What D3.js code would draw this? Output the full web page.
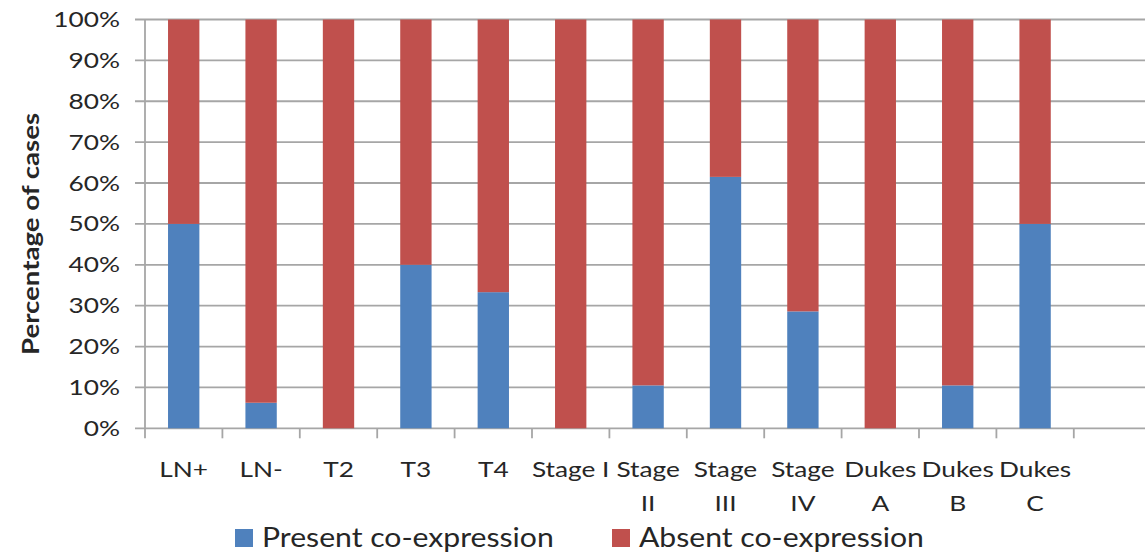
<!DOCTYPE html>
<html><head><meta charset="utf-8">
<script src="https://cdn.jsdelivr.net/npm/d3@7"></script>
<style>
body{margin:0;background:#fff;}
svg text{font-family:Lato,"Open Sans",sans-serif;fill:#262626;}
</style>
</head><body>
<svg id="chart" width="1145" height="556"></svg>
<script>
const categories = ["LN+","LN-","T2","T3","T4","Stage I","Stage II","Stage III","Stage IV","Dukes A","Dukes B","Dukes C"];
const categoryLabelLines = [["LN+"],["LN-"],["T2"],["T3"],["T4"],["Stage I"],["Stage","II"],["Stage","III"],["Stage","IV"],["Dukes","A"],["Dukes","B"],["Dukes","C"]];
const presentValues = [50, 6.25, 0, 40, 33.3, 0, 10.5, 61.5, 28.6, 0, 10.5, 50];
const absentValues  = [50, 93.75, 100, 60, 66.7, 100, 89.5, 38.5, 71.4, 100, 89.5, 50];
const seriesNames = ["Present co-expression", "Absent co-expression"];
const seriesColors = ["#4F81BD", "#C0504D"];
const yTickValues = [0,10,20,30,40,50,60,70,80,90,100];
const yAxisTitle = "Percentage of cases";

(function(){
const svg = d3.select("#chart");
const W = 1145, H = 556;
const mLeft = 145, mTop = 19.5, mBottom = 428.3, step = 77.4;
const stretch = 1.25;

const x = d3.scaleBand().domain(categories)
  .range([mLeft, mLeft + step * categories.length])
  .paddingInner(0.595).paddingOuter(0.2975);
const y = d3.scaleLinear().domain([0,100]).range([mBottom, mTop]);

const gridColor = "#a6a6a6";

svg.append("g").selectAll("line").data(yTickValues).join("line")
  .attr("x1", mLeft - 10).attr("x2", W)
  .attr("y1", d => y(d)).attr("y2", d => y(d))
  .attr("stroke", gridColor).attr("stroke-width", 1.8);

svg.append("line").attr("x1", mLeft).attr("x2", mLeft)
  .attr("y1", mTop).attr("y2", mBottom + 10)
  .attr("stroke", gridColor).attr("stroke-width", 1.8);

const bounds = categories.map((c,i) => mLeft + x.step()*(i+1));
svg.append("g").selectAll("line").data(bounds).join("line")
  .attr("x1", d => d).attr("x2", d => d)
  .attr("y1", mBottom).attr("y2", mBottom + 10)
  .attr("stroke", gridColor).attr("stroke-width", 1.8);

const rows = categories.map((c,i) => ({cat:c, present:presentValues[i], absent:absentValues[i]}));
const stacked = d3.stack().keys(["present","absent"])(rows);
svg.append("g").selectAll("g").data(stacked).join("g")
  .attr("fill", (d,i) => seriesColors[i])
  .selectAll("rect").data(d => d).join("rect")
  .attr("x", d => x(d.data.cat))
  .attr("width", x.bandwidth())
  .attr("y", d => y(d[1]))
  .attr("height", d => y(d[0]) - y(d[1]));

svg.append("g").selectAll("text").data(yTickValues).join("text")
  .attr("transform", d => `translate(120,${y(d)+7.5}) scale(${stretch},1)`)
  .attr("text-anchor","end")
  .style("font-size","21px")
  .text(d => d + "%");

const xl = svg.append("g").selectAll("text").data(categories).join("text")
  .attr("text-anchor","middle")
  .style("font-size","21px")
  .attr("transform", d => `translate(${x(d)+x.bandwidth()/2},477) scale(${stretch},1)`);
xl.selectAll("tspan").data((d,i) => categoryLabelLines[i]).join("tspan")
  .attr("x",0).attr("dy",(d,i)=> i===0 ? 0 : 34)
  .text(d => d);

svg.append("text")
  .attr("transform", `translate(39,234) rotate(-90) scale(1.2,1)`)
  .attr("text-anchor","middle")
  .style("font-size","23px").style("font-weight","bold")
  .text(yAxisTitle);

const legendX = [235, 612];
const lg = svg.append("g").selectAll("g").data(seriesNames).join("g")
  .attr("transform",(d,i)=>`translate(${legendX[i]},529)`);
lg.append("rect").attr("width",18).attr("height",18).attr("fill",(d,i)=>seriesColors[i]);
lg.append("text").attr("transform",`translate(27,18) scale(1.16,1)`)
  .style("font-size","26px").text(d=>d);
})();
</script>
</body></html>
